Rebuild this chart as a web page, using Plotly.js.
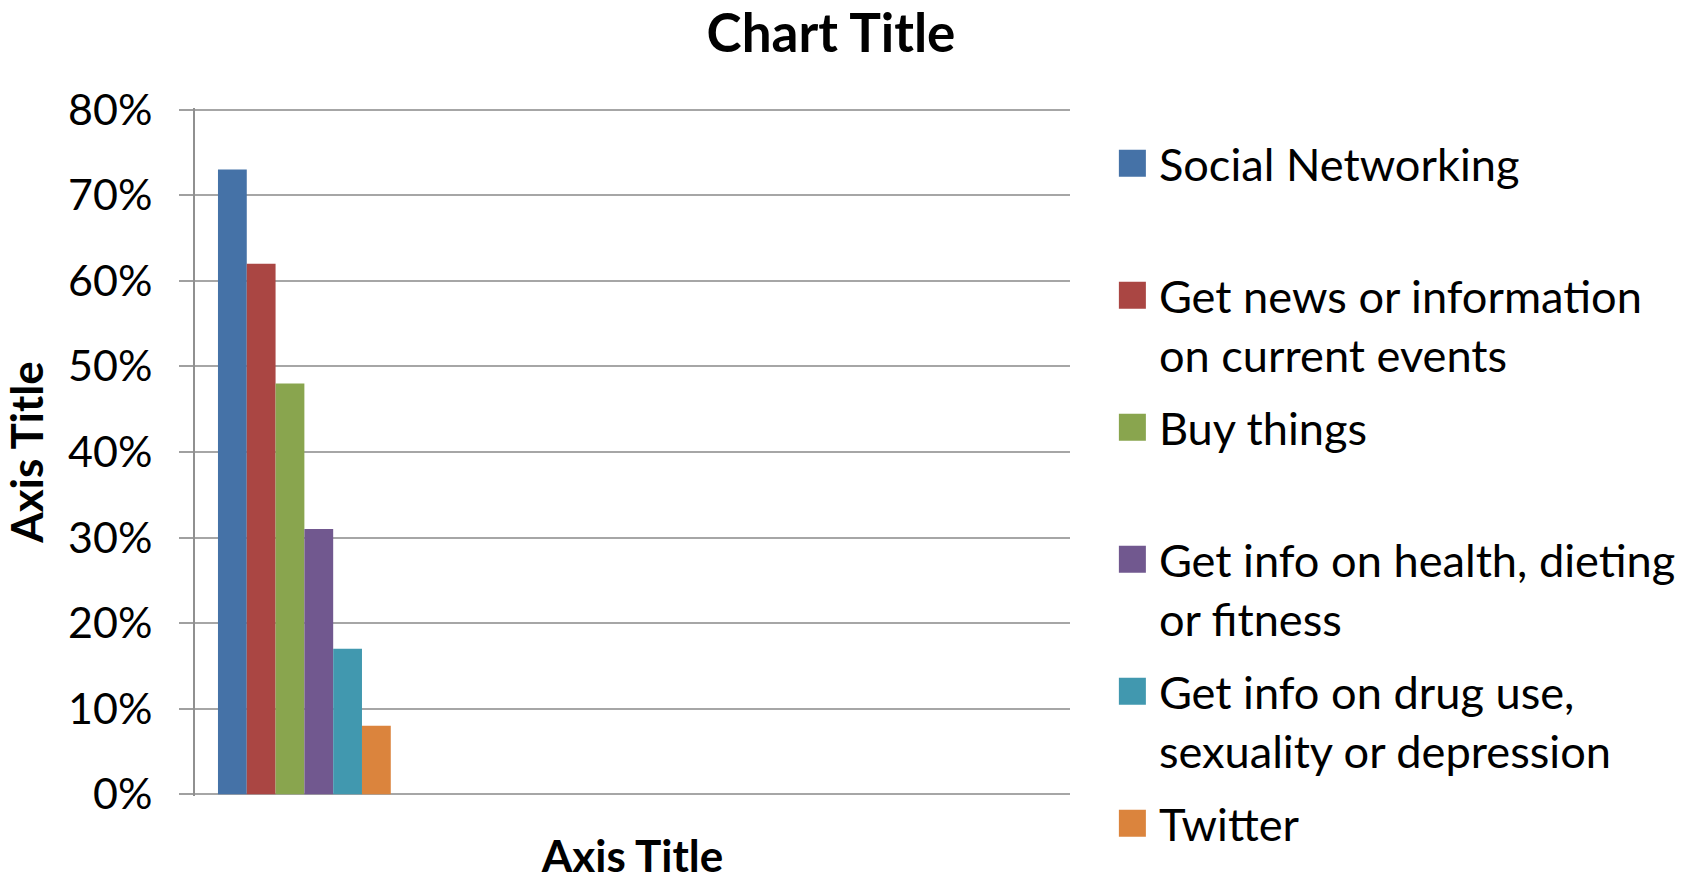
<!DOCTYPE html>
<html>
<head>
<meta charset="utf-8">
<script src="https://cdn.plot.ly/plotly-3.0.1.min.js"></script>
<style>html,body{margin:0;padding:0;background:#fff;}#chart{width:1687px;height:881px;}</style>
</head>
<body>
<div id="chart"></div>
<script>
// Data
const categories = ["1", "2", "3", "4"];
const seriesNames = [
  "Social Networking<br> ",
  "Get news or information<br>on current events",
  "Buy things<br> ",
  "Get info on health, dieting<br>or fitness",
  "Get info on drug use,<br>sexuality or depression",
  "Twitter"
];
const seriesValues = [0.73, 0.62, 0.48, 0.31, 0.17, 0.08];
const seriesColors = ["#4572A7", "#AA4643", "#89A54E", "#71588F", "#4198AF", "#DB843D"];
const yTickVals = [0, 0.1, 0.2, 0.3, 0.4, 0.5, 0.6, 0.7, 0.8];
const yTickText = ["0%", "10%", "20%", "30%", "40%", "50%", "60%", "70%", "80%"];

const FONT = "Lato, 'Open Sans', sans-serif";

const traces = seriesNames.map((name, i) => ({
  type: "bar",
  name: name,
  legendgroup: "g" + i,
  x: [categories[0]],
  y: [seriesValues[i]],
  marker: { color: seriesColors[i], line: { width: 0 } },
  hoverinfo: "none"
}));

const layout = {
  width: 1687,
  height: 881,
  margin: { l: 195, r: 617, t: 108, b: 85, pad: 0, autoexpand: false },
  paper_bgcolor: "#ffffff",
  plot_bgcolor: "#ffffff",
  barmode: "group",
  bargap: 0.21,
  bargroupgap: 0,
  font: { family: FONT, color: "#000000", size: 44 },
  title: {
    text: "<b>Chart Title</b>",
    font: { family: FONT, size: 53, color: "#000" },
    xref: "container", x: 0.4926, xanchor: "center",
    yref: "container", y: 0.962, yanchor: "middle"
  },
  xaxis: {
    type: "category",
    categoryorder: "array",
    categoryarray: categories,
    range: [-0.5, 3.5],
    showticklabels: false,
    ticks: "",
    showgrid: false,
    zeroline: false,
    showline: false,
    fixedrange: true,
    title: { text: "<b>Axis Title</b>", font: { family: FONT, size: 44, color: "#000" }, standoff: 60 }
  },
  yaxis: {
    range: [-0.002, 0.802],
    tickvals: yTickVals,
    ticktext: yTickText,
    ticks: "outside",
    ticklen: 14,
    tickcolor: "#A0A0A0",
    tickwidth: 2,
    ticklabelstandoff: 18,
    tickfont: { family: FONT, size: 43, color: "#000" },
    showgrid: true,
    gridcolor: "#A6A6A6",
    gridwidth: 2,
    zeroline: false,
    showline: true,
    linecolor: "#909090",
    linewidth: 2,
    fixedrange: true,
    title: { text: "<b>Axis Title</b>", font: { family: FONT, size: 44, color: "#000" }, standoff: 15 }
  },
  showlegend: true,
  legend: {
    x: 1.041, xanchor: "left",
    y: 0.972, yanchor: "top",
    font: { family: FONT, size: 45.2, color: "#000" },
    itemwidth: 43,
    valign: "top",
    traceorder: "grouped",
    tracegroupgap: 11.5,
    maxheight: 1000,
    bgcolor: "rgba(0,0,0,0)"
  }
};

Plotly.newPlot("chart", traces, layout, { staticPlot: true, displayModeBar: false }).then(gd => {
  document.querySelectorAll("#chart .legend .legendpoints path").forEach(p => {
    p.setAttribute("d", "M13.5,13.5H-13.5V-13.5H13.5Z");
  });
});
</script>
</body>
</html>
